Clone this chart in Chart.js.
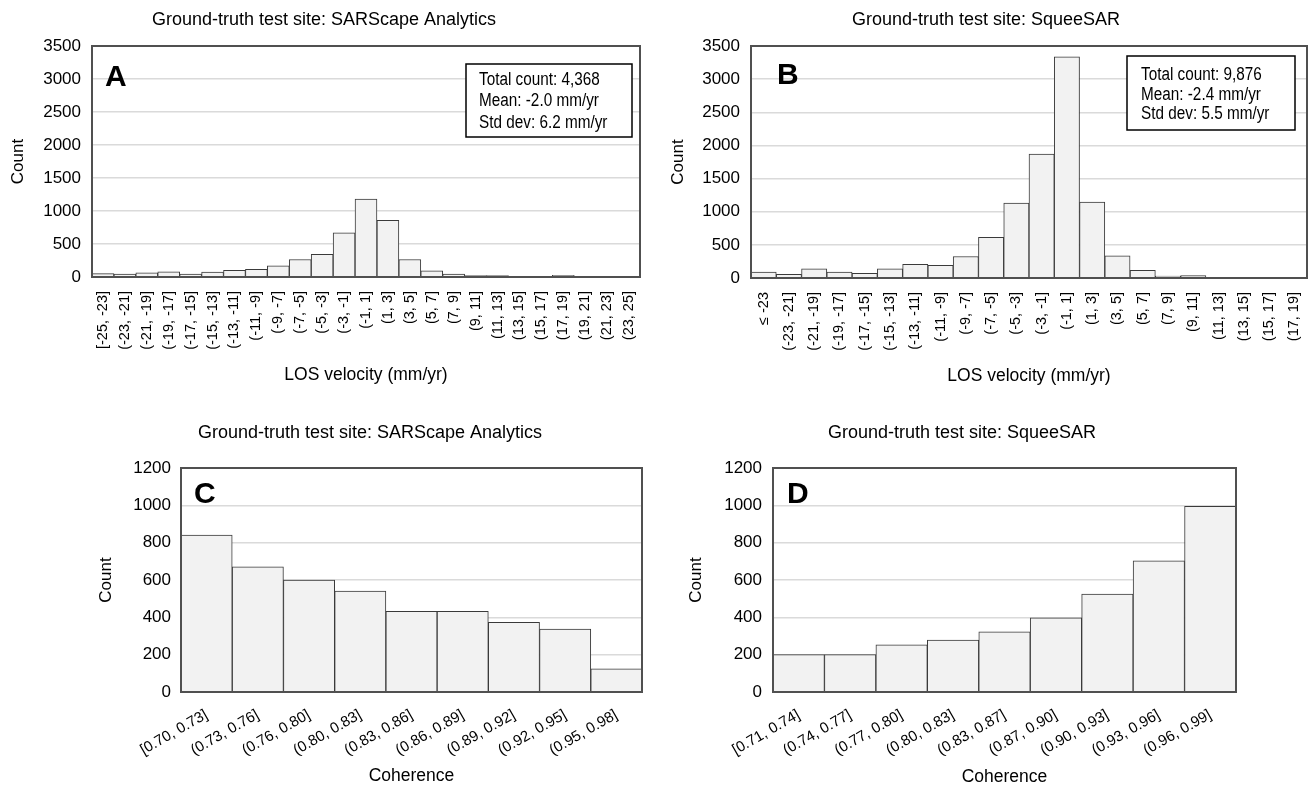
<!DOCTYPE html>
<html>
<head>
<meta charset="utf-8">
<script src="https://cdn.jsdelivr.net/npm/chart.js@4.4.0/dist/chart.umd.min.js"></script>
<style>
  body { margin: 0; background: #fff; }
  #wrap { position: relative; width: 1309px; height: 788px; }
  canvas { position: absolute; }
</style>
</head>
<body>
<div id="wrap">
  <canvas id="chartA" width="654" height="394" style="left:0;top:0"></canvas>
  <canvas id="chartB" width="655" height="394" style="left:654px;top:0"></canvas>
  <canvas id="chartC" width="654" height="394" style="left:0;top:394px"></canvas>
  <canvas id="chartD" width="655" height="394" style="left:654px;top:394px"></canvas>
</div>
<script>
// LOS velocity histograms (mm/yr)
const losBinsA = ["[-25, -23]", "(-23, -21]", "(-21, -19]", "(-19, -17]", "(-17, -15]", "(-15, -13]",
  "(-13, -11]", "(-11, -9]", "(-9, -7]", "(-7, -5]", "(-5, -3]", "(-3, -1]", "(-1, 1]", "(1, 3]",
  "(3, 5]", "(5, 7]", "(7, 9]", "(9, 11]", "(11, 13]", "(13, 15]", "(15, 17]", "(17, 19]",
  "(19, 21]", "(21, 23]", "(23, 25]"];
const losCountsA = [50, 45, 65, 80, 45, 75, 100, 115, 170, 265, 345, 670, 1180, 860, 265, 95, 45,
  20, 20, 5, 5, 25, 5, 3, 3];

const losBinsB = ["\u2264 -23", "(-23, -21]", "(-21, -19]", "(-19, -17]", "(-17, -15]", "(-15, -13]",
  "(-13, -11]", "(-11, -9]", "(-9, -7]", "(-7, -5]", "(-5, -3]", "(-3, -1]", "(-1, 1]", "(1, 3]",
  "(3, 5]", "(5, 7]", "(7, 9]", "(9, 11]", "(11, 13]", "(13, 15]", "(15, 17]", "(17, 19]"];
const losCountsB = [90, 55, 140, 90, 70, 140, 205, 190, 325, 615, 1130, 1870, 3335, 1145, 335, 115,
  30, 35, 0, 0, 0, 0];

// coherence histograms
const cohBinsC = ["[0.70, 0.73]", "(0.73, 0.76]", "(0.76, 0.80]", "(0.80, 0.83]", "(0.83, 0.86]",
  "(0.86, 0.89]", "(0.89, 0.92]", "(0.92, 0.95]", "(0.95, 0.98]"];
const cohCountsC = [840, 670, 600, 540, 432, 432, 373, 337, 124];

const cohBinsD = ["[0.71, 0.74]", "(0.74, 0.77]", "(0.77, 0.80]", "(0.80, 0.83]", "(0.83, 0.87]",
  "(0.87, 0.90]", "(0.90, 0.93]", "(0.93, 0.96]", "(0.96, 0.99]"];
const cohCountsD = [200, 200, 253, 278, 323, 397, 524, 703, 995];

const statsA = ["Total count: 4,368", "Mean: -2.0 mm/yr", "Std dev: 6.2 mm/yr"];
const statsB = ["Total count: 9,876", "Mean: -2.4 mm/yr", "Std dev: 5.5 mm/yr"];

const FONT = '"Liberation Sans", Arial, sans-serif';

// frame, panel title, big letter and stats box
const panelDecor = {
  id: 'panelDecor',
  afterDraw(chart, args, o) {
    const ctx = chart.ctx;
    const a = chart.chartArea;
    ctx.save();
    ctx.strokeStyle = '#505050';
    ctx.lineWidth = 2;
    ctx.strokeRect(a.left, a.top, a.right - a.left, a.bottom - a.top);

    ctx.fillStyle = '#000';
    ctx.font = '18px ' + FONT;
    ctx.textAlign = 'center';
    ctx.textBaseline = 'middle';
    ctx.fillText(o.title, o.titleX, o.titleY);

    ctx.font = 'bold 30px ' + FONT;
    ctx.textAlign = 'left';
    ctx.textBaseline = 'alphabetic';
    ctx.fillText(o.letter, o.letterX, o.letterY);

    if (o.stats) {
      const b = o.box;
      ctx.fillStyle = '#fff';
      ctx.fillRect(b.x, b.y, b.w, b.h);
      ctx.strokeStyle = '#000';
      ctx.lineWidth = 1.5;
      ctx.strokeRect(b.x, b.y, b.w, b.h);
      ctx.fillStyle = '#000';
      ctx.font = '18px ' + FONT;
      ctx.textBaseline = 'middle';
      o.stats.forEach((s, i) => {
        // the text box font is a condensed face
        ctx.save();
        ctx.translate(b.x + b.inset, o.lineY[i]);
        ctx.scale(0.85, 1);
        ctx.fillText(s, 0, 0);
        ctx.restore();
      });
    }
    ctx.restore();
  }
};

function histogram(id, labels, counts, c) {
  return new Chart(document.getElementById(id), {
    type: 'bar',
    data: {
      labels: labels,
      datasets: [{
        data: counts,
        backgroundColor: '#f2f2f2',
        borderColor: '#3a3a3a',
        borderWidth: 1,
        categoryPercentage: 1,
        barPercentage: 1
      }]
    },
    options: {
      responsive: false,
      animation: false,
      layout: { padding: { top: c.top, right: c.right, left: 0, bottom: 0 } },
      plugins: {
        legend: { display: false },
        tooltip: { enabled: false },
        panelDecor: c.decor
      },
      scales: {
        x: {
          grid: { display: false },
          border: { display: false },
          ticks: {
            autoSkip: false,
            minRotation: c.rot,
            maxRotation: c.rot,
            padding: c.xPad,
            color: '#000',
            font: { family: FONT, size: c.xFont }
          },
          title: {
            display: true,
            text: c.xTitle,
            color: '#000',
            font: { family: FONT, size: 17.5 },
            padding: { top: 0, bottom: c.xTitlePad }
          },
          afterFit: s => { s.height = c.xHeight; s.paddingLeft = 0; s.paddingRight = 0; }
        },
        y: {
          min: 0,
          max: c.yMax,
          ticks: {
            stepSize: c.step,
            padding: c.yPad,
            color: '#000',
            font: { family: FONT, size: 17 },
            callback: v => String(v)
          },
          grid: { color: '#dadada', lineWidth: 1.5, drawTicks: false },
          border: { display: false },
          title: {
            display: true,
            text: 'Count',
            color: '#000',
            font: { family: FONT, size: 17 },
            padding: { top: c.yTitlePad, bottom: 0 }
          },
          afterFit: s => { s.width = c.yWidth; s.paddingTop = 0; s.paddingBottom = 0; }
        }
      }
    },
    plugins: [panelDecor]
  });
}

histogram('chartA', losBinsA, losCountsA, {
  top: 46, right: 14, yWidth: 92, xHeight: 117, rot: 90, xPad: 6, yPad: 11, xFont: 14.5,
  yMax: 3500, step: 500, xTitle: 'LOS velocity (mm/yr)', xTitlePad: 8, yTitlePad: 8,
  decor: {
    title: 'Ground-truth test site: SARScape Analytics', titleX: 324, titleY: 20,
    letter: 'A', letterX: 105, letterY: 86,
    stats: statsA, lineY: [80, 101.5, 123],
    box: { x: 466, y: 64, w: 166, h: 73, inset: 13 }
  }
});

histogram('chartB', losBinsB, losCountsB, {
  top: 46, right: 2, yWidth: 97, xHeight: 116, rot: 90, xPad: 6, yPad: 11, xFont: 14.5,
  yMax: 3500, step: 500, xTitle: 'LOS velocity (mm/yr)', xTitlePad: 7, yTitlePad: 14,
  decor: {
    title: 'Ground-truth test site: SqueeSAR', titleX: 332, titleY: 20,
    letter: 'B', letterX: 123, letterY: 84,
    stats: statsB, lineY: [75, 95, 114.5],
    box: { x: 473, y: 56, w: 168, h: 74, inset: 14 }
  }
});

histogram('chartC', cohBinsC, cohCountsC, {
  top: 74, right: 12, yWidth: 181, xHeight: 96, rot: 30, xPad: 6, yPad: 10, xFont: 15,
  yMax: 1200, step: 200, xTitle: 'Coherence', xTitlePad: 1, yTitlePad: 96,
  decor: {
    title: 'Ground-truth test site: SARScape Analytics', titleX: 370, titleY: 39,
    letter: 'C', letterX: 194, letterY: 109
  }
});

histogram('chartD', cohBinsD, cohCountsD, {
  top: 74, right: 73, yWidth: 119, xHeight: 96, rot: 30, xPad: 6, yPad: 11, xFont: 15,
  yMax: 1200, step: 200, xTitle: 'Coherence', xTitlePad: 0, yTitlePad: 32,
  decor: {
    title: 'Ground-truth test site: SqueeSAR', titleX: 308, titleY: 39,
    letter: 'D', letterX: 133, letterY: 109
  }
});
</script>
</body>
</html>
